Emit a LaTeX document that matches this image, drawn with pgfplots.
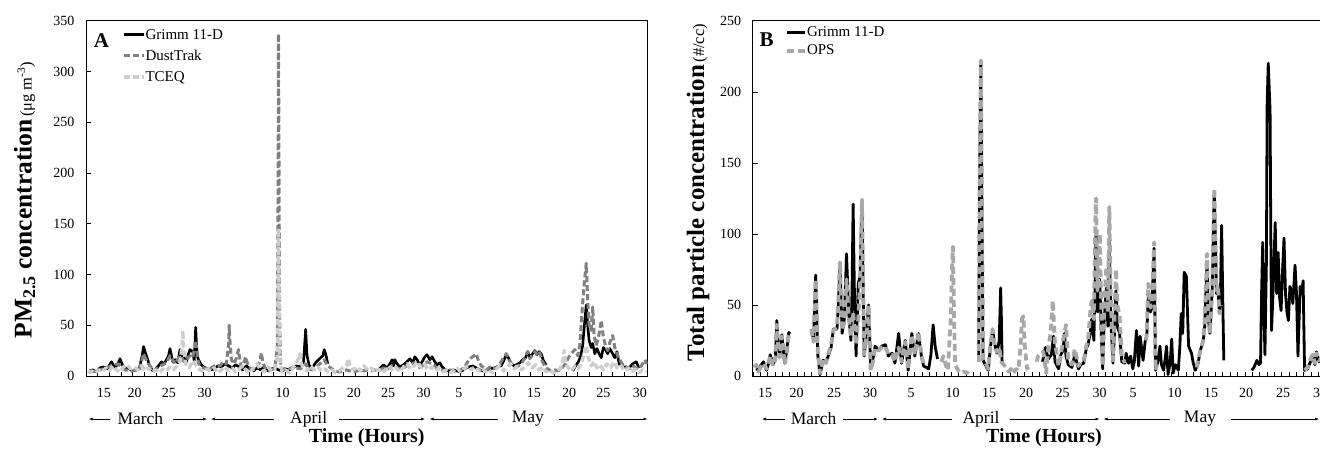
\documentclass[border=0pt]{standalone}
\usepackage{fontspec}
\setmainfont{Liberation Serif}
\usepackage{pgfplots}
\pgfplotsset{compat=1.18}
\usetikzlibrary{arrows.meta}

\definecolor{dtgray}{RGB}{128,128,128}
\definecolor{tcgray}{RGB}{205,205,205}
\definecolor{opsgray}{RGB}{168,168,168}

\pgfplotsset{
  panel/.style={
    scale only axis, height=355.3pt, ymin=0,
    axis line style={line width=0.6pt},
    tick align=inside, xtick pos=bottom, ytick pos=left,
    major tick length=5pt, minor tick length=4pt,
    major x tick style={draw=none},
    minor x tick style={line width=0.5pt, black},
    y tick style={line width=0.5pt, black},
    xticklabels={15,20,25,30,5,10,15,20,25,30,5,10,15,20,25,30},
    tick label style={font=\fontsize{14}{16}\selectfont},
    /pgf/number format/assume math mode=true,
    xticklabel shift=9pt, yticklabel shift=8pt,
    unbounded coords=jump,
    legend cell align=left,
    legend style={draw=none, fill=none, inner sep=0pt,
      font=\fontsize{15}{17}\selectfont, nodes={inner sep=0pt}},
  },
}
\tikzset{marr/.style={line width=0.6pt, -{Latex[length=4pt,width=3pt]}}}

\begin{document}
\begin{tikzpicture}

% ---------------- panel A ----------------
\begin{axis}[panel,
  at={(86pt,-376pt)}, anchor=south west, width=561.5pt,
  xmin=13.04, xmax=91.68, ymax=350, ytick={0,50,...,350},
  xtick={15.56,19.85,24.66,29.66,35.28,40.59,45.74,50.57,55.34,60.32,65.25,70.92,75.76,80.69,85.50,90.60},
  minor xtick={14.64,16.28,...,91.5},
  legend image code/.code={\draw[#1] (0pt,0pt) -- (20pt,0pt);},
  legend style={at={(rel axis cs:0.064,0.977)}, anchor=north west, row sep=9.5pt},
]
\addplot[black, line width=2.6pt, line join=round] coordinates {
(13.5,5)(14.0,6)(14.5,4)(15.0,8)(15.5,9)(16.0,7)(16.6,14)(17.1,8)(17.5,12)(17.8,17)(18.2,10)(18.5,7)(19.0,8)(19.5,5)(19.9,6)(20.5,7)(20.9,20)(21.1,29)(21.4,22)(21.6,18)(22.0,9)(22.4,5)(22.7,6)(23.2,10)(23.6,14)(24.0,12)(24.3,16)(24.6,20)(24.8,27)(25.2,14)(25.5,16)(25.9,13)(26.2,26)(26.5,20)(26.7,19)(27.1,14)(27.4,22)(27.6,26)(28.0,24)(28.2,15)(28.4,48)(28.6,20)(28.8,16)(29.1,12)(29.5,9)(30.0,7)(30.6,6)(31.0,7)(31.5,10)(32.0,9)(32.5,12)(33.0,10)(33.5,8)(34.0,11)(34.5,9)(35.0,6)(35.5,10)(36.0,7)(36.5,5)(37.0,8)(37.5,6)(38.0,9)(38.5,5)(39.0,7)(39.5,8)(40.0,6)(40.5,5)(41.0,7)(41.5,6)(42.0,8)(42.5,10)(43.0,9)(43.5,14)(43.7,35)(43.8,46)(44.0,20)(44.3,10)(44.7,8)(45.0,11)(45.3,14)(45.6,16)(45.9,18)(46.2,20)(46.4,26)(46.6,22)(46.9,12)
(50,nan)
(54.0,6)(54.4,9)(54.7,11)(55.2,8)(55.6,12)(55.9,16)(56.1,10)(56.3,16)(56.6,12)(57.0,9)(57.5,11)(58.0,14)(58.4,17)(58.8,13)(59.1,19)(59.5,15)(59.8,11)(60.2,15)(60.5,19)(60.8,21)(61.2,16)(61.5,19)(61.9,14)(62.2,11)(62.6,13)(62.9,9)(63.4,6)(64.0,5)(64.5,6)(65.0,5)(65.4,4)(65.9,6)(66.3,8)(66.7,9)(67.2,10)(67.7,8)(68.2,6)(68.7,5)(69.2,6)(69.6,7)(70.2,8)(70.7,9)(71.2,10)(71.6,16)(71.9,21)(72.2,18)(72.6,12)(73.0,10)(73.3,11)(73.8,13)(74.2,16)(74.6,18)(74.9,24)(75.2,19)(75.6,22)(75.9,25)(76.2,21)(76.5,24)(76.8,22)(77.1,15)(77.5,11)
(79,nan)
(81.2,5)(81.6,10)(82.0,14)(82.3,19)(82.6,30)(82.9,55)(83.1,70)(83.3,50)(83.5,35)(83.8,28)(84.0,32)(84.3,22)(84.6,27)(84.9,22)(85.2,18)(85.5,28)(85.8,26)(86.1,22)(86.4,27)(86.8,22)(87.1,18)(87.4,24)(87.7,12)(88.0,10)(88.3,9)(88.6,9)(89.0,7)(89.6,12)(90.1,14)(90.5,8)
};
\addplot[dtgray, line width=3pt, dash pattern=on 6pt off 3pt, line join=round] coordinates {
(13.5,4)(14.5,5)(15.5,7)(16.5,10)(17.5,12)(18.5,6)(19.5,5)(20.5,6)(21.1,22)(21.6,14)(22.5,5)(23.5,10)(24.3,13)(24.8,20)(25.5,12)(26.2,20)(26.8,14)(27.6,20)(28.0,18)(28.4,35)(28.8,12)(29.5,8)(30.2,6)(30.8,9)(31.3,11)(31.8,10)(32.3,14)(32.7,12)(33.0,30)(33.1,50)(33.2,35)(33.4,16)(33.8,12)(34.1,18)(34.4,26)(34.6,15)(34.8,9)(35.1,12)(35.4,19)(35.7,11)(36.0,8)(36.5,6)(37.0,9)(37.4,14)(37.6,23)(37.8,14)(38.1,8)(38.6,5)(39.0,6)(39.5,8)(39.85,30)(39.95,200)(40.0,337)(40.05,250)(40.15,60)(40.3,10)(40.6,6)(41.0,8)(41.5,7)(42.1,9)(42.5,8)(43.0,7)(43.5,9)(43.8,12)(44.2,7)(44.8,6)(45.3,9)(45.8,12)(46.4,16)(46.9,10)(47.5,7)(48.0,5)(48.5,4)(49.0,5)(49.5,6)(50.0,5)(50.5,4)(51.0,5)(51.5,6)(52.0,5)(52.5,6)(53.0,5)(53.5,6)(54.0,5)(54.7,8)(55.3,7)(55.9,10)(56.5,8)(57.0,7)(57.5,8)(58.4,12)(59.1,13)(59.8,8)(60.5,12)(60.8,14)(61.5,12)(62.2,8)(62.9,6)(63.5,5)(64.0,6)(64.5,5)(65.0,4)(65.5,6)(66.0,8)(66.5,14)(67.0,18)(67.4,20)(67.7,22)(68.0,15)(68.4,10)(68.8,8)(69.2,6)(69.6,9)(70.0,7)(70.5,8)(71.0,12)(71.5,18)(71.9,22)(72.2,17)(72.6,12)(73.0,10)(73.4,9)(73.8,11)(74.2,14)(74.6,20)(74.9,24)(75.2,17)(75.6,21)(75.9,24)(76.3,20)(76.6,23)(76.9,15)(77.3,10)(77.7,7)(78.2,5)(78.7,6)(79.2,5)(79.7,8)(80.2,12)(80.6,18)(81.0,22)(81.5,26)(81.9,20)(82.2,30)(82.5,62)(82.8,90)(83.1,111)(83.3,75)(83.5,50)(83.8,45)(84.0,68)(84.2,40)(84.5,30)(84.8,38)(85.0,45)(85.2,55)(85.5,38)(85.8,30)(86.1,25)(86.4,33)(86.8,40)(87.1,28)(87.5,20)(87.9,15)(88.3,10)(88.7,9)(89.2,7)(89.6,10)(90.1,8)(90.5,7)(91.0,12)(91.3,16)(91.6,12)
};
\addplot[tcgray, line width=3.4pt, dash pattern=on 6pt off 3pt, line join=round] coordinates {
(13.3,3)(13.8,5)(14.3,3)(14.8,6)(15.3,4)(15.8,8)(16.3,5)(16.8,10)(17.3,6)(17.8,4)(18.3,9)(18.8,11)(19.3,7)(19.8,9)(20.3,6)(20.8,10)(21.3,5)(21.8,8)(22.3,4)(22.8,6)(23.3,3)(23.8,7)(24.3,5)(24.8,9)(25.3,6)(25.8,10)(26.2,14)(26.5,30)(26.6,45)(26.7,28)(27.0,12)(27.5,8)(28.0,15)(28.5,10)(29.0,6)(29.5,4)(30.0,7)(30.5,5)(31.0,8)(31.5,3)(32.0,6)(32.5,9)(33.0,5)(33.5,8)(34.0,4)(34.5,7)(35.0,10)(35.5,5)(36.0,3)(36.5,8)(37.0,12)(37.5,6)(38.0,4)(38.5,9)(39.0,5)(39.5,7)(39.85,20)(39.95,110)(40.0,145)(40.05,100)(40.2,15)(40.5,4)(41.0,6)(41.5,3)(42.0,8)(42.5,12)(42.8,18)(43.0,22)(43.2,12)(43.5,8)(44.0,5)(44.5,10)(45.0,6)(45.5,9)(46.0,5)(46.5,7)(47.0,4)(47.5,6)(48.0,3)(48.5,5)(49.0,8)(49.5,10)(49.8,17)(50.0,11)(50.5,6)(51.0,9)(51.5,5)(52.0,10)(52.5,6)(53.0,8)(53.5,4)(54.0,7)(54.5,3)(55.0,6)(55.5,10)(56.0,5)(56.5,8)(57.0,4)(57.5,9)(58.0,12)(58.5,7)(59.0,10)(59.5,14)(60.0,8)(60.5,11)(61.0,6)(61.5,9)(62.0,5)(62.5,8)(63.0,4)(63.5,6)(64.0,3)(64.5,5)(65.0,8)(65.5,4)(66.0,7)(66.5,10)(67.0,6)(67.5,9)(68.0,5)(68.5,8)(69.0,4)(69.5,6)(70.0,3)(70.5,7)(71.0,10)(71.5,5)(72.0,8)(72.5,12)(73.0,7)(73.5,10)(74.0,6)(74.5,9)(75.0,13)(75.5,8)(76.0,11)(76.5,6)(77.0,9)(77.5,4)(78.0,6)(78.5,3)(79.0,5)(79.5,8)(79.8,14)(80.0,25)(80.2,12)(80.6,8)(81.0,5)(81.5,10)(82.0,7)(82.5,15)(82.8,22)(83.1,30)(83.4,18)(83.8,10)(84.2,14)(84.6,8)(85.0,11)(85.5,6)(86.0,12)(86.5,8)(87.0,14)(87.5,7)(88.0,10)(88.5,5)(89.0,8)(89.5,4)(90.0,7)(90.5,3)(91.0,6)(91.5,4)
};
\legend{Grimm 11-D, DustTrak, TCEQ}
\end{axis}

% ---------------- panel B ----------------
\begin{axis}[panel,
  at={(752.7pt,-376pt)}, anchor=south west, width=582.4pt,
  xmin=13.32, xmax=92.66, ymax=250, ytick={0,50,...,250},
  xtick={15.0,19.29,24.40,29.31,34.89,40.54,45.52,50.56,55.53,60.57,65.14,70.79,75.76,80.53,85.57,90.61},
  minor xtick={13.35,14.35,...,92.4},
  legend image code/.code={\draw[#1] (0pt,0pt) -- (18pt,0pt);},
  legend style={at={(rel axis cs:0.0555,0.984)}, anchor=north west, row sep=7pt},
]
\addplot[black, line width=2.8pt, line join=round] coordinates {
(13.8,4)(14.1,5)(14.5,8)(14.8,10)(15.2,4)(15.5,9)(15.7,15)(16.1,8)(16.4,12)(16.6,39)(16.8,21)(17.0,14)(17.3,29)(17.5,18)(17.7,9)(18.0,20)(18.2,30)(18.4,31)
(19.9,nan)
(21.4,32)(21.6,25)(21.9,71)(22.2,14)(22.5,1)(22.9,11)(23.3,10)(23.6,14)(24.0,20)(24.3,33)(24.8,33)(25.0,50)(25.2,80)(25.5,30)(25.8,40)(26.1,86)(26.4,44)(26.7,25)(26.85,60)(27.0,121)(27.2,50)(27.4,14)(27.7,65)(27.95,70)(28.2,124)(28.5,14)(28.8,30)(29.1,50)(29.4,5)(29.7,12)(30.0,21)(30.5,18)(30.9,21)(31.4,22)(31.8,14)(32.3,16)(32.7,9)(33.2,30)(33.6,9)(34.1,25)(34.5,4)(35.0,30)(35.4,14)(35.9,30)(36.3,14)(36.6,7)(37.0,6)(37.3,5)(37.6,15)(37.9,36)(38.2,20)(38.5,12)
(41,nan)
(44.1,10)(44.25,150)(44.4,222)(44.5,150)(44.7,11)(45.0,8)(45.4,4)(45.7,20)(46.0,33)(46.3,22)(46.6,16)(46.9,25)(47.1,62)(47.2,40)(47.3,9)
(50,nan)
(52.8,10)(53.2,20)(53.6,12)(54.0,15)(54.3,28)(54.5,10)(55.0,5)(55.3,15)(55.6,18)(55.8,30)(56.0,14)(56.3,8)(56.8,6)(57.2,15)(57.7,5)(58.0,8)(58.4,9)(58.8,20)(59.0,22)(59.3,30)(59.5,40)(59.8,25)(60.1,100)(60.3,45)(60.6,68)(60.8,30)(61.0,5)(61.2,40)(61.5,62)(61.7,35)(61.9,95)(62.1,40)(62.4,9)(62.6,30)(62.8,60)(63.0,35)(63.3,30)(63.6,10)(64.0,9)(64.2,16)(64.5,9)(64.8,14)(65.1,5)(65.3,10)(65.6,32)(65.9,7)(66.1,28)(66.5,11)(66.8,25)(67.0,28)(67.2,55)(67.5,45)(67.7,48)(68.0,90)(68.2,4)(68.5,10)(68.8,21)(69.0,8)(69.3,4)(69.5,12)(69.7,21)(69.9,1)(70.2,10)(70.4,26)(70.6,2)(70.9,8)(71.3,4)(71.5,20)(71.7,44)(71.9,30)(72.1,73)(72.4,70)(72.7,21)(73.1,16)(73.3,10)(73.6,4)(74.0,9)(74.3,18)(74.7,25)(74.9,35)(75.2,80)(75.4,40)(75.6,30)(75.9,58)(76.2,130)(76.5,58)(76.7,62)(76.9,44)(77.05,60)(77.2,106)(77.4,40)(77.5,11)
(79,nan)
(81.3,4)(81.6,6)(82.0,11)(82.3,8)(82.5,9)(82.65,60)(82.8,94)(82.95,50)(83.1,15)(83.3,80)(83.4,191)(83.55,220)(83.7,200)(83.8,187)(83.9,100)(84.0,32)(84.2,58)(84.5,108)(84.7,58)(84.9,87)(85.1,55)(85.3,46)(85.5,74)(85.7,97)(85.9,58)(86.1,45)(86.3,39)(86.5,63)(86.7,60)(86.9,51)(87.2,78)(87.4,58)(87.6,14)(87.9,63)(88.1,58)(88.3,67)(88.5,4)(88.9,5)(89.3,10)(89.6,14)(89.9,8)(90.1,17)(90.5,10)(90.9,14)(91.3,8)(91.8,12)
};
\addplot[opsgray, line width=3.8pt, dash pattern=on 7pt off 4pt, line join=round] coordinates {
(13.5,6)(13.8,8)(14.1,3)(14.5,7)(14.8,9)(15.2,5)(15.5,10)(15.7,14)(16.1,7)(16.4,12)(16.6,36)(16.8,20)(17.0,13)(17.3,28)(17.5,17)(17.7,8)(18.0,18)(18.2,28)(18.4,30)
(19.9,nan)
(21.3,33)(21.6,24)(21.9,68)(22.2,16)(22.5,2)(22.9,12)(23.3,9)(23.6,15)(24.0,22)(24.3,32)(24.8,34)(25.0,55)(25.2,80)(25.5,32)(25.8,38)(26.1,68)(26.4,42)(26.7,28)(27.0,45)(27.4,22)(27.7,40)(27.95,65)(28.2,124)(28.5,15)(28.8,28)(29.1,50)(29.4,4)(29.7,10)(30.0,20)(30.5,18)(30.9,20)(31.4,21)(31.8,15)(32.3,15)(32.7,10)(33.2,20)(33.6,10)(34.1,24)(34.5,5)(35.0,29)(35.4,15)(35.9,31)(36.3,15)(36.6,8)
(37.5,nan)
(39.0,10)(39.3,14)(39.6,8)(39.9,4)(40.3,40)(40.5,80)(40.6,91)(40.75,40)(40.9,8)(41.3,4)(41.7,2)(42.1,3)(42.5,2)(42.9,5)
(43.5,nan)
(44.1,10)(44.25,150)(44.4,222)(44.5,150)(44.7,12)(45.0,10)(45.4,5)(45.7,22)(46.0,33)(46.3,20)(46.6,17)(46.9,20)(47.2,10)(47.5,8)(47.8,6)(48.2,3)(48.5,5)(48.8,2)(49.2,5)(49.5,4)(49.8,20)(50.0,40)(50.2,42)(50.4,20)(50.7,5)(51.1,8)
(51.5,nan)
(52.0,10)(52.2,14)(52.6,16)(52.9,17)(53.3,2)(53.6,21)(53.9,30)(54.2,53)(54.5,23)(55.0,7)(55.3,15)(55.6,25)(56.0,36)(56.3,11)(56.8,8)(57.2,19)(57.7,7)(58.0,10)(58.4,11)(58.8,22)(59.0,25)(59.3,45)(59.5,53)(59.8,40)(60.0,110)(60.1,125)(60.3,60)(60.6,100)(60.8,50)(61.0,7)(61.2,50)(61.5,77)(61.7,45)(61.9,119)(62.1,55)(62.4,11)(62.6,40)(62.8,75)(63.0,50)(63.3,42)(63.6,15)(64.0,9)
(65.5,nan)
(66.9,25)(67.0,30)(67.2,65)(67.5,48)(67.7,53)(68.0,94)(68.2,4)(68.4,8)
(70,nan)
(73.8,6)(74.0,11)(74.3,18)(74.7,25)(74.9,39)(75.2,86)(75.4,42)(75.6,30)(75.9,60)(76.2,132)(76.5,60)(76.7,64)(76.9,44)(77.1,50)
(80,nan)
(88.5,4)(88.9,6)(89.3,12)(89.6,15)(89.9,9)(90.1,16)(90.5,11)(90.9,13)(91.3,7)(91.8,10)
};
\legend{Grimm 11-D, OPS}
\end{axis}

% panel letters
\node[font=\bfseries\fontsize{21}{24}\selectfont] at (101.5pt,-40.3pt) {A};
\node[font=\bfseries\fontsize{21}{24}\selectfont] at (766.5pt,-40pt) {B};

% y labels
\node[rotate=90, anchor=base] at (31.5pt,-200pt)
  {{\bfseries\fontsize{25.5}{30}\selectfont PM\textsubscript{2.5} concentration}\ {\fontsize{16.5}{20}\selectfont (μg m\textsuperscript{-3})}};
\node[rotate=90, anchor=base] at (704pt,-192.5pt)
  {{\bfseries\fontsize{25}{30}\selectfont Total particle concentration}\ {\fontsize{16.5}{20}\selectfont (\#/cc)}};

% month rows and x titles
\begin{scope}[every node/.style={font=\fontsize{17.5}{20}\selectfont}]
\draw[marr] (109.8pt,-419pt) -- (88.7pt,-419pt);
\node at (140.4pt,-419pt) {March};
\draw[marr] (172.9pt,-419pt) -- (207pt,-419pt);
\draw[marr] (274.3pt,-419pt) -- (211pt,-419pt);
\node at (308.7pt,-419pt) {April};
\draw[marr] (339.4pt,-419pt) -- (425pt,-419pt);
\draw[marr] (498.2pt,-419pt) -- (429.5pt,-419pt);
\node at (527.8pt,-419pt) {May};
\draw[marr] (559.4pt,-419pt) -- (647.5pt,-419pt);

\draw[marr] (784.6pt,-419pt) -- (762pt,-419pt);
\node at (813.6pt,-419pt) {March};
\draw[marr] (843pt,-419pt) -- (878pt,-419pt);
\draw[marr] (952pt,-419pt) -- (882pt,-419pt);
\node at (981pt,-419pt) {April};
\draw[marr] (1010pt,-419pt) -- (1099.5pt,-419pt);
\draw[marr] (1170pt,-419pt) -- (1103.5pt,-419pt);
\node at (1200pt,-419pt) {May};
\draw[marr] (1230.6pt,-419pt) -- (1319pt,-419pt);
\end{scope}
\node[font=\bfseries\fontsize{20}{24}\selectfont] at (366.8pt,-438pt) {Time (Hours)};
\node[font=\bfseries\fontsize{20}{24}\selectfont] at (1044pt,-438pt) {Time (Hours)};

\pgfresetboundingbox
\path[use as bounding box] (0pt,0pt) rectangle (1320pt,-450pt);
\end{tikzpicture}
\end{document}
